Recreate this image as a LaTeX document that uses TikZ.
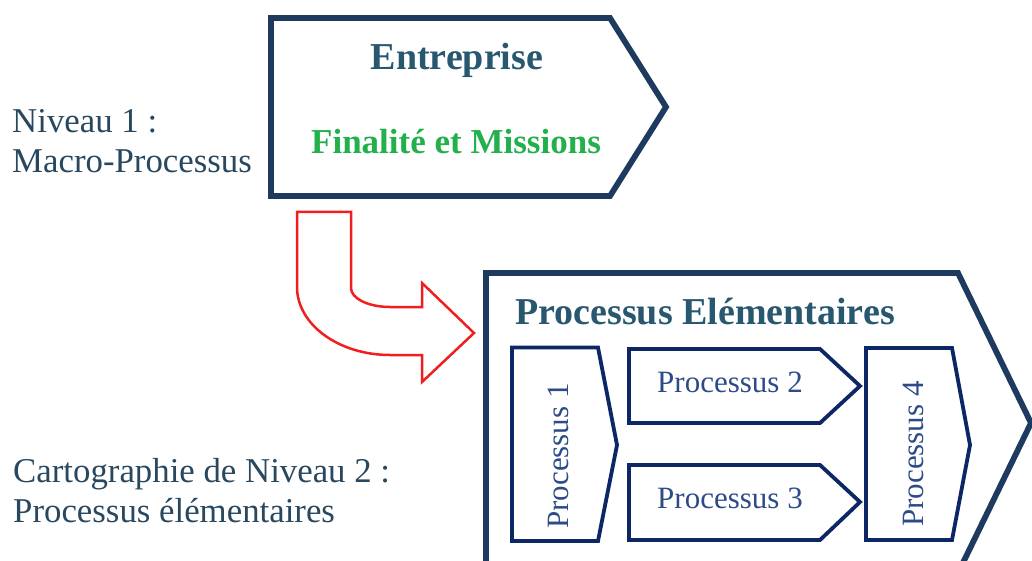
\documentclass[tikz,border=0pt]{standalone}
\usepackage{fontspec}
\setmainfont{Liberation Serif}
\definecolor{framenavy}{RGB}{31,58,95}
\definecolor{subnavy}{RGB}{12,38,102}
\definecolor{headteal}{RGB}{40,88,112}
\definecolor{greentxt}{RGB}{34,176,74}
\definecolor{labelslate}{RGB}{40,72,95}
\definecolor{subtext}{RGB}{45,75,135}
\definecolor{arrowred}{RGB}{240,30,30}

\begin{document}
\begin{tikzpicture}[x=1pt,y=-1pt,
  frame/.style={draw=framenavy, line width=5.8pt, line join=miter},
  subframe/.style={draw=subnavy, line width=3.8pt, line join=miter},
  sidelabel/.style={font=\fontsize{34.8}{40}\selectfont, text=labelslate, inner sep=0pt, anchor=base west},
  head/.style={font=\fontsize{38}{44}\selectfont\bfseries, text=headteal, inner sep=0pt, anchor=base},
  subtxt/.style={font=\fontsize{31}{36}\selectfont, text=subtext, inner sep=0pt, anchor=base},
]
\useasboundingbox (0,0) rectangle (1032,561);
\clip (0,0) rectangle (1032,561);

% level 1 macro-process chevron
\draw[frame] (271,18) -- (610,18) -- (666,107) -- (610,196) -- (271,196) -- cycle;
\node[head] (ent) at (457,70) {Entreprise};
\node[head, text=greentxt, font=\fontsize{35}{40}\selectfont\bfseries] (fin) at (456,154) {Finalité et Missions};

% level 2 chevron holding the elementary processes
\draw[frame] (486,273) -- (958,273) -- (1031,423) -- (958,573) -- (486,573) -- cycle;
\node[head, anchor=base west] (pe) at (515,324) {Processus Elémentaires};

% elementary processes
\draw[subframe] (512,347.5) -- (598,347.5) -- (617,445) -- (598,541) -- (512,541) -- cycle;
\draw[subframe] (629,349) -- (820,349) -- (860,386) -- (820,423) -- (629,423) -- cycle;
\draw[subframe] (629,465) -- (820,465) -- (860,502) -- (820,540) -- (629,540) -- cycle;
\draw[subframe] (866,348) -- (952,348) -- (970,445) -- (952,540) -- (866,540) -- cycle;
\node[subtxt, rotate=90] (p1) at (568,456) {Processus 1};
\node[subtxt] (p2) at (730,392) {Processus 2};
\node[subtxt] (p3) at (730,508) {Processus 3};
\node[subtxt, rotate=90] (p4) at (923,454) {Processus 4};

% bent block arrow from level 1 down to level 2
\draw[draw=arrowred, line width=2.5pt, fill=white, line join=miter]
  (297,212) -- (351,212) -- (351,288)
  .. controls (351,298.5) and (368.5,307) .. (390,307)
  -- (422,307) -- (422,283) -- (474,333) -- (422,382) -- (422,355) -- (390,355)
  .. controls (338.7,355) and (297,324.5) .. (297,287) -- cycle;

% side labels
\node[sidelabel] (n1a) at (12,133) {Niveau 1 :};
\node[sidelabel] (n1b) at (12,173) {Macro-Processus};
\node[sidelabel] (n2a) at (13,482) {Cartographie de Niveau 2 :};
\node[sidelabel] (n2b) at (13,522) {Processus élémentaires};
\end{tikzpicture}
\end{document}
